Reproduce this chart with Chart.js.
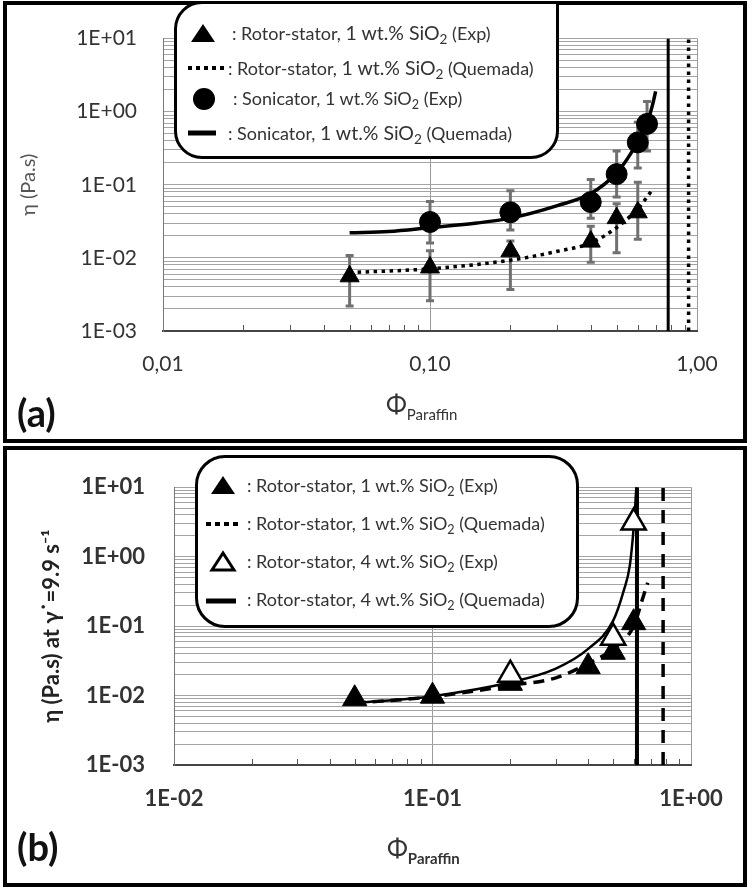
<!DOCTYPE html>
<html>
<head>
<meta charset="utf-8">
<script src="https://cdn.jsdelivr.net/npm/chart.js@4.4.0/dist/chart.umd.min.js"></script>
<style>
body { margin: 0; background: #fff; }
#page { position: relative; width: 752px; height: 889px; overflow: hidden; font-family: Lato, sans-serif; color: #333; }
canvas { position: absolute; left: 0; }
.panel { position: absolute; border: 4px solid #000; box-sizing: border-box; }
.leg { position: absolute; background: #fff; border: 3px solid #000; box-sizing: border-box; }
.txt { position: absolute; white-space: nowrap; line-height: 24px; height: 24px; font-size: 18px; }
.txt sub { font-size: 0.7em; vertical-align: -0.3em; line-height: 0; }
.big { font-size: 19.5px; }
#sym { position: absolute; left: 0; top: 0; }
.xt { position: absolute; white-space: nowrap; font-size: 25px; line-height: 30px; }
.xt sub { font-size: 15px; vertical-align: -0.45em; line-height: 0; }
.xt.b sub { font-weight: bold; }
.tag { position: absolute; font-weight: bold; font-size: 38px; line-height: 40px; color: #111; }
</style>
</head>
<body>
<div id="page">
  <canvas id="chartA" width="752" height="444" style="top:0"></canvas>
  <canvas id="chartB" width="752" height="444" style="top:445px"></canvas>
  <div class="panel" style="left:3px;top:1px;width:744px;height:442px"></div>
  <div class="panel" style="left:3px;top:446px;width:744px;height:441px"></div>

  <div class="leg" style="left:174px;top:1px;width:385px;height:158px;border-radius:28px 0 28px 28px"></div>
  <div class="leg" style="left:195px;top:455px;width:384px;height:173px;border-radius:30px"></div>

  <svg id="sym" width="752" height="889">
    <polygon points="203,24 191,42 215,42" fill="#000"/>
    <line x1="188" y1="68" x2="226" y2="68" stroke="#000" stroke-width="4" stroke-dasharray="4,4"/>
    <circle cx="204" cy="99" r="11" fill="#000"/>
    <line x1="188" y1="133" x2="216" y2="133" stroke="#000" stroke-width="5"/>

    <polygon points="223,476 211,494 235,494" fill="#000"/>
    <line x1="206" y1="524" x2="242" y2="524" stroke="#000" stroke-width="4" stroke-dasharray="5,4"/>
    <polygon points="223,553 212,570 234,570" fill="#fff" stroke="#000" stroke-width="3"/>
    <line x1="206" y1="601" x2="236" y2="601" stroke="#000" stroke-width="5"/>
  </svg>

  <div class="txt" style="left:232px;top:21px">: Rotor-stator, <span class="big">1 wt.% SiO<sub>2</sub></span> (Exp)</div>
  <div class="txt" style="left:228px;top:56px">: Rotor-stator, <span class="big">1 wt.% SiO<sub>2</sub></span> (Quemada)</div>
  <div class="txt" style="left:233px;top:86px">: Sonicator, 1 wt.% SiO<sub>2</sub> (Exp)</div>
  <div class="txt" style="left:228px;top:121px">: Sonicator, <span class="big">1 wt.% SiO<sub>2</sub></span> (Quemada)</div>

  <div class="txt" style="left:247px;top:473px">: Rotor-stator, 1 wt.% SiO<sub>2</sub> (Exp)</div>
  <div class="txt" style="left:247px;top:511px">: Rotor-stator, 1 wt.% SiO<sub>2</sub> (Quemada)</div>
  <div class="txt" style="left:247px;top:549px">: Rotor-stator, 4 wt.% SiO<sub>2</sub> (Exp)</div>
  <div class="txt" style="left:247px;top:587px">: Rotor-stator, 4 wt.% SiO<sub>2</sub> (Quemada)</div>

  <div class="xt" style="left:386px;top:388px">Φ<sub>Paraffin</sub></div>
  <div class="xt b" style="left:387px;top:832px">Φ<sub>Paraffin</sub></div>
  <div class="tag" style="left:17px;top:392px">(a)</div>
  <div class="tag" style="left:17px;top:826px">(b)</div>
</div>

<script>
// axes
var xTickValues = [0.01, 0.1, 1];
var xTickLabelsA = ['0,01', '0,10', '1,00'];
var xTickLabelsB = ['1E-02', '1E-01', '1E+00'];
var yTickValues = [0.001, 0.01, 0.1, 1, 10];
var yTickLabels = ['1E-03', '1E-02', '1E-01', '1E+00', '1E+01'];

// panel (a) - rotor-stator, 1 wt.%
var phiRsA = [0.05, 0.1, 0.2, 0.4, 0.5, 0.6];
var rsExpA = [0.0056, 0.0074, 0.0123, 0.0167, 0.035, 0.042];
var rsErrLowA = [0.0022, 0.0026, 0.0037, 0.0087, 0.0118, 0.018];
var rsErrHighA = [0.0108, 0.0125, 0.017, 0.027, 0.055, 0.108];
// panel (a) - sonicator, 1 wt.%
var phiSonA = [0.1, 0.2, 0.4, 0.5, 0.6, 0.65];
var sonExpA = [0.031, 0.042, 0.058, 0.14, 0.38, 0.68];
var sonErrLowA = [0.016, 0.024, 0.035, 0.068, 0.17, 0.29];
var sonErrHighA = [0.059, 0.083, 0.118, 0.29, 0.72, 1.38];
// panel (a) - Quemada curves
var phiRsQA = [0.05, 0.1, 0.2, 0.3, 0.4, 0.5, 0.6, 0.68];
var rsQA = [0.0063, 0.0071, 0.0093, 0.0123, 0.016, 0.026, 0.047, 0.085];
var phiSonQA = [0.05, 0.07, 0.1, 0.15, 0.2, 0.3, 0.4, 0.5, 0.55, 0.6, 0.65, 0.68, 0.7];
var sonQA = [0.022, 0.023, 0.026, 0.030, 0.035, 0.052, 0.076, 0.145, 0.23, 0.39, 0.70, 1.2, 1.9];
var phiMaxSonA = 0.78;
var phiMaxRsA = 0.93;

// panel (b)
var phi1B = [0.05, 0.1, 0.2, 0.4, 0.5, 0.6];
var rs1ExpB = [0.009, 0.0098, 0.015, 0.026, 0.042, 0.112];
var phi4B = [0.2, 0.5, 0.6];
var rs4ExpB = [0.020, 0.068, 3.1];
var phi1QB = [0.05, 0.1, 0.2, 0.3, 0.4, 0.5, 0.6, 0.65, 0.68];
var rs1QB = [0.0078, 0.0096, 0.014, 0.018, 0.029, 0.047, 0.1, 0.25, 0.42];
var phi4QB = [0.05, 0.1, 0.2, 0.3, 0.4, 0.5, 0.55, 0.58, 0.6, 0.615];
var rs4QB = [0.0078, 0.0098, 0.0155, 0.0245, 0.047, 0.12, 0.33, 0.75, 2.6, 10];
var phiMax1B = 0.78;
var phiMax4B = 0.618;

function toPoints(xs, ys) {
    return xs.map(function(x, i) { return {x: x, y: ys[i]}; });
}

function vertical(x) {
    return [{x: x, y: yTickValues[0]}, {x: x, y: yTickValues[yTickValues.length - 1]}];
}

// all 1..9 multiples for the minor grid
function minorValues(decades) {
    var out = [];
    for (var i = 0; i < decades.length - 1; i++) {
        for (var m = 1; m < 10; m++) out.push(m === 1 ? decades[i] : m * decades[i]);
    }
    out.push(decades[decades.length - 1]);
    return out;
}

var errorBars = {
    id: 'errorBars',
    beforeDatasetsDraw: function(chart) {
        var ctx = chart.ctx, xs = chart.scales.x, ys = chart.scales.y;
        chart.data.datasets.forEach(function(ds) {
            if (!ds.errLow) return;
            ctx.save();
            ctx.strokeStyle = '#707070';
            ctx.lineWidth = 3;
            ds.data.forEach(function(p, i) {
                var x = xs.getPixelForValue(p.x);
                var y1 = ys.getPixelForValue(ds.errLow[i]);
                var y2 = ys.getPixelForValue(ds.errHigh[i]);
                ctx.beginPath();
                ctx.moveTo(x, y1); ctx.lineTo(x, y2);
                ctx.moveTo(x - 4, y1); ctx.lineTo(x + 4, y1);
                ctx.moveTo(x - 4, y2); ctx.lineTo(x + 4, y2);
                ctx.stroke();
            });
            ctx.restore();
        });
    }
};

var minorTicks = {
    id: 'minorTicks',
    afterDraw: function(chart) {
        var ctx = chart.ctx, xs = chart.scales.x;
        var vals = minorValues(xTickValues);
        ctx.save();
        ctx.strokeStyle = '#555';
        ctx.lineWidth = 1;
        vals.forEach(function(v) {
            if (xTickValues.indexOf(v) >= 0) return;
            var x = Math.round(xs.getPixelForValue(v)) + 0.5;
            ctx.beginPath();
            ctx.moveTo(x, chart.chartArea.bottom);
            ctx.lineTo(x, chart.chartArea.bottom - 6);
            ctx.stroke();
        });
        ctx.restore();
    }
};

function makeOptions(o) {
    var weight = o.bold ? 'bold' : 'normal';
    return {
        responsive: false,
        animation: false,
        events: [],
        layout: {padding: {left: 0, top: o.top, right: o.right, bottom: 0}},
        plugins: {legend: {display: false}, tooltip: {enabled: false}},
        scales: {
            x: {
                type: 'logarithmic',
                min: xTickValues[0],
                max: xTickValues[xTickValues.length - 1],
                afterBuildTicks: function(s) {
                    s.ticks = xTickValues.map(function(v) { return {value: v}; });
                },
                afterFit: function(s) { s.height = o.xHeight; },
                grid: {color: '#9a9a9a', lineWidth: 1, drawTicks: false},
                border: {color: '#444', width: 2},
                ticks: {
                    autoSkip: false, maxRotation: 0, padding: 21, color: '#333',
                    font: {family: 'Lato', size: o.tickSize, weight: weight},
                    callback: function(v) { return o.xLabels[xTickValues.indexOf(v)]; }
                }
            },
            y: {
                type: 'logarithmic',
                min: yTickValues[0],
                max: yTickValues[yTickValues.length - 1],
                afterBuildTicks: function(s) {
                    s.ticks = minorValues(yTickValues).map(function(v) { return {value: v}; });
                },
                afterFit: function(s) { s.width = o.left; },
                grid: {color: '#a4a4a4', lineWidth: 1, drawTicks: false},
                border: {color: '#777', width: 1},
                title: {
                    display: true, text: o.yTitle, color: o.bold ? '#222' : '#555',
                    font: {family: 'Lato', size: o.bold ? 22 : 20, weight: weight},
                    padding: {top: o.titlePad, bottom: 0}
                },
                ticks: {
                    autoSkip: false, padding: o.yPad, color: '#333',
                    font: {family: 'Lato', size: o.tickSize, weight: weight},
                    callback: function(v) {
                        var i = yTickValues.indexOf(v);
                        return i >= 0 ? yTickLabels[i] : '';
                    }
                }
            }
        }
    };
}

var ctxA = document.getElementById('chartA').getContext('2d');
var chartA = new Chart(ctxA, {
    type: 'scatter',
    data: {
        datasets: [{
            label: 'Sonicator, 1 wt.% SiO2 (Exp)',
            data: toPoints(phiSonA, sonExpA),
            errLow: sonErrLowA, errHigh: sonErrHighA,
            pointStyle: 'circle', pointRadius: 10.5,
            backgroundColor: '#000', borderColor: '#000', borderWidth: 1,
            order: 0
        }, {
            label: 'Rotor-stator, 1 wt.% SiO2 (Exp)',
            data: toPoints(phiRsA, rsExpA),
            errLow: rsErrLowA, errHigh: rsErrHighA,
            pointStyle: 'triangle', pointRadius: 11,
            backgroundColor: '#000', borderColor: '#000', borderWidth: 1,
            order: 1
        }, {
            label: 'Sonicator, 1 wt.% SiO2 (Quemada)',
            data: toPoints(phiSonQA, sonQA),
            showLine: true, pointRadius: 0, borderColor: '#000', borderWidth: 3.5,
            cubicInterpolationMode: 'monotone',
            order: 2
        }, {
            label: 'Rotor-stator, 1 wt.% SiO2 (Quemada)',
            data: toPoints(phiRsQA, rsQA),
            showLine: true, pointRadius: 0, borderColor: '#000', borderWidth: 3.5,
            borderDash: [3.5, 4.5], cubicInterpolationMode: 'monotone',
            order: 3
        }, {
            label: 'phi max sonicator',
            data: vertical(phiMaxSonA),
            showLine: true, pointRadius: 0, borderColor: '#000', borderWidth: 3,
            order: 4
        }, {
            label: 'phi max rotor-stator',
            data: vertical(phiMaxRsA),
            showLine: true, pointRadius: 0, borderColor: '#000', borderWidth: 3.5,
            borderDash: [3.5, 4.5],
            order: 5
        }]
    },
    options: makeOptions({
        top: 31, right: 55, xHeight: 113, left: 163, yPad: 26, titlePad: 17, tickSize: 21,
        xLabels: xTickLabelsA, yTitle: 'η (Pa.s)', bold: false
    }),
    plugins: [errorBars, minorTicks]
});

var ctxB = document.getElementById('chartB').getContext('2d');
var chartB = new Chart(ctxB, {
    type: 'scatter',
    data: {
        datasets: [{
            label: 'Rotor-stator, 4 wt.% SiO2 (Exp)',
            data: toPoints(phi4B, rs4ExpB),
            pointStyle: 'triangle', pointRadius: 14,
            backgroundColor: '#fff', borderColor: '#000', borderWidth: 2.5,
            order: 0
        }, {
            label: 'Rotor-stator, 1 wt.% SiO2 (Exp)',
            data: toPoints(phi1B, rs1ExpB),
            pointStyle: 'triangle', pointRadius: 14,
            backgroundColor: '#000', borderColor: '#000', borderWidth: 1,
            order: 1
        }, {
            label: 'Rotor-stator, 4 wt.% SiO2 (Quemada)',
            data: toPoints(phi4QB, rs4QB),
            showLine: true, pointRadius: 0, borderColor: '#000', borderWidth: 2.5,
            cubicInterpolationMode: 'monotone',
            order: 2
        }, {
            label: 'Rotor-stator, 1 wt.% SiO2 (Quemada)',
            data: toPoints(phi1QB, rs1QB),
            showLine: true, pointRadius: 0, borderColor: '#000', borderWidth: 3.5,
            borderDash: [11, 7], cubicInterpolationMode: 'monotone',
            order: 3
        }, {
            label: 'phi max 4 wt.%',
            data: vertical(phiMax4B),
            showLine: true, pointRadius: 0, borderColor: '#000', borderWidth: 4,
            order: 4
        }, {
            label: 'phi max 1 wt.%',
            data: vertical(phiMax1B),
            showLine: true, pointRadius: 0, borderColor: '#000', borderWidth: 3.5,
            borderDash: [13, 9],
            order: 5
        }]
    },
    options: makeOptions({
        top: 28, right: 61, xHeight: 124, left: 174, yPad: 29, titlePad: 39, tickSize: 22,
        xLabels: xTickLabelsB, yTitle: 'η (Pa.s) at γ˙=9.9 s⁻¹', bold: true
    }),
    plugins: [minorTicks]
});
</script>
</body>
</html>
